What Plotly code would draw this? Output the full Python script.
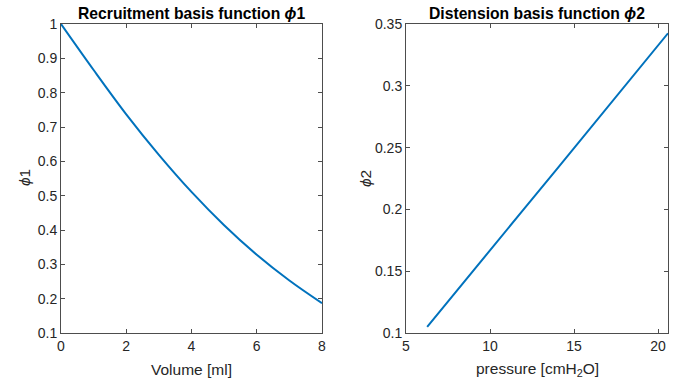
import plotly.graph_objects as go

# Left panel: recruitment basis function
volume_ml = [0, 1, 2, 3, 4, 5, 6, 7, 8]
phi1 = [1.0, 0.866, 0.737, 0.619, 0.511, 0.414, 0.328, 0.253, 0.187]

# Right panel: distension basis function
pressure = [6.26, 8, 10, 12, 14, 16, 18, 20.59]
phi2 = [0.105, 0.134, 0.167, 0.200, 0.233, 0.266, 0.299, 0.3425]

left_xticks = [0, 2, 4, 6, 8]
left_yticks = [0.1, 0.2, 0.3, 0.4, 0.5, 0.6, 0.7, 0.8, 0.9, 1]
right_xticks = [5, 10, 15, 20]
right_yticks = [0.1, 0.15, 0.2, 0.25, 0.3, 0.35]

W, H = 681, 385
LINE = "#0072BD"
TXT = "#262626"
AX = "#4d4d4d"
FONT = "Liberation Sans, Arial, Helvetica, sans-serif"

def px(x):
    return x / W

def py(y):
    return 1 - y / H

fig = go.Figure()
fig.add_trace(go.Scatter(x=volume_ml, y=phi1, mode="lines", line=dict(color=LINE, width=2, shape="spline"),
                         xaxis="x", yaxis="y", showlegend=False))
fig.add_trace(go.Scatter(x=pressure, y=phi2, mode="lines", line=dict(color=LINE, width=2),
                         xaxis="x2", yaxis="y2", showlegend=False))

def ax(domain, rng, ticks, anchor):
    return dict(domain=domain, range=rng, tickvals=ticks,
                ticktext=[("%g" % t) for t in ticks],
                showgrid=False, zeroline=False, showline=True, linecolor=AX, linewidth=1,
                mirror="ticks", ticks="inside", ticklen=4, tickcolor=AX,
                tickfont=dict(family=FONT, size=14, color=TXT), anchor=anchor, automargin=False)

ydom = [py(333), py(24)]
fig.update_layout(
    width=W, height=H, margin=dict(l=0, r=0, t=0, b=0),
    paper_bgcolor="white", plot_bgcolor="white",
    xaxis=ax([px(61), px(322)], [0, 8], left_xticks, "y"),
    yaxis=ax(ydom, [0.1, 1], left_yticks, "x"),
    xaxis2=ax([px(406), px(668)], [5, 20.59], right_xticks, "y2"),
    yaxis2=ax(ydom, [0.1, 0.35], right_yticks, "x2"),
)

def ann(text, x, y, size=15.5, bold=False, angle=0):
    if bold:
        text = "<b>" + text + "</b>"
    fig.add_annotation(text=text, x=px(x), y=py(y), xref="paper", yref="paper",
                       showarrow=False, textangle=angle, xanchor="center", yanchor="middle",
                       font=dict(family=FONT, size=size, color=TXT if not bold else "black"))

ann("Recruitment basis function <i>ϕ</i>1", 191, 13, size=15.7, bold=True)
ann("Distension basis function <i>ϕ</i>2", 537, 13, size=15.7, bold=True)
ann("Volume [ml]", 191, 369)
ann("pressure [cmH<sub>2</sub>O]", 537, 369)
ann("<i>ϕ</i>1", 25, 178, angle=-90)
ann("<i>ϕ</i>2", 366, 178, angle=-90)

fig.write_html("out.html", config={"displayModeBar": False},
               post_script="document.body.style.margin='0';document.body.style.overflow='hidden';")
